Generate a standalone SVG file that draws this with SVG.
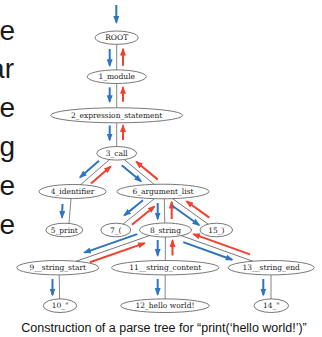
<svg xmlns="http://www.w3.org/2000/svg" width="322" height="337" viewBox="0 0 322 337">
<defs>
<marker id="hb" viewBox="0 0 8 6" refX="6.5" refY="3" markerWidth="8" markerHeight="6" markerUnits="userSpaceOnUse" orient="auto"><path d="M0,0 L8,3 L0,6 z" fill="#2E75C0"/></marker>
<marker id="hr" viewBox="0 0 8 6" refX="6.5" refY="3" markerWidth="8" markerHeight="6" markerUnits="userSpaceOnUse" orient="auto"><path d="M0,0 L8,3 L0,6 z" fill="#F2402F"/></marker>
</defs>
<style>
.n ellipse{fill:#fff;stroke:#555;stroke-width:0.8}
.n text{font-family:"DejaVu Serif",serif;font-size:7.5px;fill:#222;text-anchor:middle}
.g{stroke:#666;stroke-width:0.8;fill:none}
.b{stroke:#2E75C0;stroke-width:2;marker-end:url(#hb)}
.r{stroke:#F2402F;stroke-width:2;marker-end:url(#hr)}
.side{font-family:"Liberation Sans",Arial,sans-serif;font-size:28px;fill:#1a1a1a}
.cap{font-family:"Liberation Sans",Arial,sans-serif;font-size:12.5px;fill:#111;text-anchor:middle}
</style>
<rect width="322" height="337" fill="#fff"/>
<g id="side-text">
<text class="side" x="-0.5" y="40">e</text>
<text class="side" x="14" y="78" text-anchor="end">ar</text>
<text class="side" x="-0.5" y="117">e</text>
<text class="side" x="-0.5" y="156">g</text>
<text class="side" x="-0.5" y="195">e</text>
<text class="side" x="-0.5" y="234">e</text>
</g>
<g id="connectors">
<line class="b" x1="116.3" y1="5" x2="116.3" y2="22.5"/>
<line class="g" x1="116.7" y1="44.5" x2="116.7" y2="70"/>
<line class="b" x1="109.7" y1="49" x2="109.7" y2="65.7"/>
<line class="r" x1="123" y1="65.7" x2="123" y2="49"/>
<line class="g" x1="116.7" y1="83.5" x2="116.7" y2="108"/>
<line class="b" x1="109.7" y1="87.3" x2="109.7" y2="101.7"/>
<line class="r" x1="123" y1="101.7" x2="123" y2="87.3"/>
<line class="g" x1="116.7" y1="122.8" x2="116.7" y2="146.5"/>
<line class="b" x1="109.7" y1="125.5" x2="109.7" y2="140"/>
<line class="r" x1="123" y1="140" x2="123" y2="125.5"/>
<g transform="translate(109.7,159.4) rotate(139)">
<line class="g" x1="0" y1="0" x2="39.3" y2="0"/>
<line class="b" x1="9" y1="6" x2="34" y2="6"/>
<line class="r" x1="30" y1="-6" x2="4" y2="-6"/>
</g>
<g transform="translate(124,159.4) rotate(39.6)">
<line class="g" x1="0" y1="0" x2="39.85" y2="0"/>
<line class="b" x1="2" y1="6" x2="27" y2="6"/>
<line class="r" x1="39" y1="-6" x2="11" y2="-6"/>
</g>
<line class="g" x1="71" y1="198.5" x2="69" y2="223.5"/>
<line class="b" x1="62.5" y1="204" x2="62" y2="217.5"/>
<g transform="translate(154.5,198.6) rotate(140.9)">
<line class="g" x1="0" y1="0" x2="40.7" y2="0"/>
<line class="b" x1="10" y1="6" x2="34" y2="6"/>
<line class="r" x1="34" y1="-6" x2="5" y2="-6"/>
</g>
<line class="g" x1="164.3" y1="198.5" x2="164.8" y2="223.2"/>
<line class="b" x1="157.7" y1="203" x2="157.7" y2="219"/>
<line class="r" x1="171.7" y1="219" x2="171.7" y2="202"/>
<g transform="translate(172.5,198.6) rotate(35.6)">
<line class="g" x1="0" y1="0" x2="44.15" y2="0"/>
<line class="b" x1="4" y1="6" x2="37" y2="6"/>
<line class="r" x1="41" y1="-6" x2="13" y2="-6"/>
</g>
<g transform="translate(150.4,235.3) rotate(160.7)">
<line class="g" x1="0" y1="0" x2="79.7" y2="0"/>
<line class="b" x1="12" y1="5.5" x2="68" y2="5.5"/>
<line class="r" x1="66" y1="-5.5" x2="8" y2="-5.5"/>
</g>
<line class="g" x1="165.4" y1="236.8" x2="165.3" y2="261"/>
<line class="b" x1="157.7" y1="240" x2="157.7" y2="255.5"/>
<line class="r" x1="172.5" y1="255.5" x2="172.5" y2="240.5"/>
<g transform="translate(180.4,235.3) rotate(19.7)">
<line class="g" x1="0" y1="0" x2="78.2" y2="0"/>
<line class="b" x1="5" y1="5.5" x2="57" y2="5.5"/>
<line class="r" x1="72" y1="-5.5" x2="12" y2="-5.5"/>
</g>
<line class="g" x1="59.2" y1="274.5" x2="59.6" y2="299"/>
<line class="b" x1="52.5" y1="279" x2="52.5" y2="295"/>
<line class="g" x1="165.2" y1="274.5" x2="165.1" y2="299"/>
<line class="b" x1="157.7" y1="279" x2="157.7" y2="294.5"/>
<line class="g" x1="271" y1="274.5" x2="271" y2="299"/>
<line class="b" x1="263.3" y1="279" x2="263.3" y2="295"/>
</g>
<g id="n0" class="n"><ellipse cx="116.7" cy="37.7" rx="21.5" ry="6.7"/><text x="116.7" y="40.4">ROOT</text></g>
<g id="n1" class="n"><ellipse cx="116.7" cy="76.7" rx="29.5" ry="6.8"/><text x="116.7" y="79.4">1_module</text></g>
<g id="n2" class="n"><ellipse cx="116.7" cy="115.3" rx="66" ry="7.5"/><text x="116.7" y="118">2_expression_statement</text></g>
<g id="n3" class="n"><ellipse cx="116.7" cy="153.3" rx="20" ry="6.8"/><text x="116.7" y="156">3_call</text></g>
<g id="n4" class="n"><ellipse cx="72.5" cy="191.5" rx="33.5" ry="7"/><text x="72.5" y="194.2">4_identifier</text></g>
<g id="n6" class="n"><ellipse cx="163" cy="191.5" rx="46" ry="7.3"/><text x="163" y="194.2">6_argument_list</text></g>
<g id="n5" class="n"><ellipse cx="64.3" cy="230" rx="18.5" ry="6.8"/><text x="64.3" y="232.7">5_print</text></g>
<g id="n7" class="n"><ellipse cx="115.8" cy="230" rx="15" ry="6.8"/><text x="115.8" y="232.7">7_(</text></g>
<g id="n8" class="n"><ellipse cx="165.5" cy="230" rx="26" ry="7"/><text x="165.5" y="232.7">8_string</text></g>
<g id="n15" class="n"><ellipse cx="216.3" cy="230" rx="16.3" ry="6.8"/><text x="216.3" y="232.7">15_)</text></g>
<g id="n9" class="n"><ellipse cx="57.8" cy="267.7" rx="41" ry="7.2"/><text x="57.8" y="270.4">9__string_start</text></g>
<g id="n11" class="n"><ellipse cx="165.3" cy="267.7" rx="53.7" ry="7.2"/><text x="165.3" y="270.4">11__string_content</text></g>
<g id="n13" class="n"><ellipse cx="271.2" cy="267.7" rx="43" ry="7.2"/><text x="271.2" y="270.4">13__string_end</text></g>
<g id="n10" class="n"><ellipse cx="60" cy="305.7" rx="16.7" ry="6.8"/><text x="60" y="308.4">10_"</text></g>
<g id="n12" class="n"><ellipse cx="165" cy="305.7" rx="44.3" ry="6.8"/><text x="165" y="308.4">12_hello world!</text></g>
<g id="n14" class="n"><ellipse cx="271.3" cy="305.7" rx="17.3" ry="6.8"/><text x="271.3" y="308.4">14_"</text></g>
<text class="cap" x="164" y="332">Construction of a parse tree for “print(‘hello world!’)”</text>
</svg>
